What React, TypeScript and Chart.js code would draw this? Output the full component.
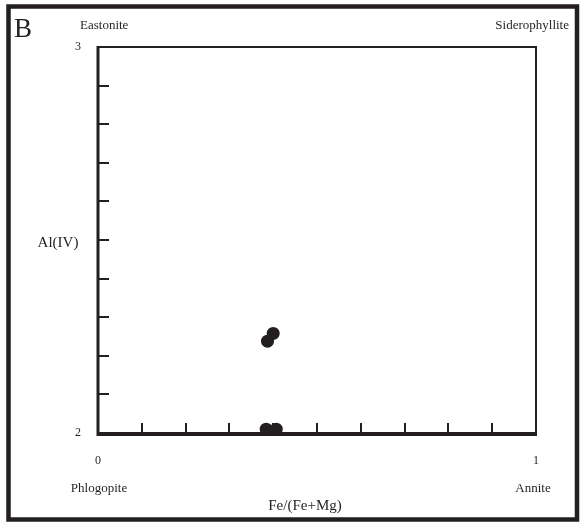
import React, { useEffect, useRef } from "react";
import { Chart, registerables } from "chart.js";

Chart.register(...registerables);

const xValues = [0.387, 0.4, 0.384, 0.407];
const yValues = [2.238, 2.258, 2.01, 2.01];
const xTickLabels: Record<string, string> = { "0": "0", "1": "1" };
const yTickLabels: Record<string, string> = { "2": "2", "3": "3" };
const cornerLabels = ["Eastonite", "Siderophyllite", "Phlogopite", "Annite"];
const xTitle = "Fe/(Fe+Mg)";
const yTitle = "Al(IV)";
const panelLabel = "B";

const INK = "#231f20";
const FONT = "'Liberation Serif', 'Times New Roman', serif";

const framePlugin = {
  id: "frame",
  beforeDatasetsDraw(chart: any) {
    const { ctx, chartArea } = chart;
    const xs = chart.scales.x;
    const ys = chart.scales.y;
    ctx.save();
    ctx.strokeStyle = INK;
    // outer border
    ctx.lineWidth = 4.5;
    ctx.strokeRect(8.5, 6.5, 568.5, 513);
    // plot frame
    ctx.lineWidth = 2;
    ctx.strokeRect(chartArea.left, chartArea.top, chartArea.right - chartArea.left, chartArea.bottom - chartArea.top);
    ctx.lineWidth = 3;
    ctx.beginPath();
    ctx.moveTo(chartArea.left, chartArea.top - 1);
    ctx.lineTo(chartArea.left, chartArea.bottom + 1.5);
    ctx.lineTo(chartArea.right + 1, chartArea.bottom + 1.5);
    ctx.stroke();
    // inward ticks
    ctx.lineWidth = 2;
    ctx.beginPath();
    for (let i = 1; i < 10; i++) {
      const v = 2 + i / 10;
      const py = Math.round(ys.getPixelForValue(v));
      ctx.moveTo(chartArea.left, py);
      ctx.lineTo(chartArea.left + 11, py);
      const vx = i / 10;
      const px = Math.round(xs.getPixelForValue(vx));
      ctx.moveTo(px, chartArea.bottom);
      ctx.lineTo(px, chartArea.bottom - 10);
    }
    ctx.stroke();
    // texts
    ctx.fillStyle = INK;
    ctx.font = `27px ${FONT}`;
    ctx.textAlign = "left";
    ctx.textBaseline = "alphabetic";
    ctx.fillText(panelLabel, 14, 37);
    ctx.font = `13px ${FONT}`;
    ctx.fillText(cornerLabels[0], 80, 29);
    ctx.textAlign = "right";
    ctx.fillText(cornerLabels[1], 569, 29);
    ctx.textAlign = "center";
    ctx.textBaseline = "middle";
    ctx.fillText(cornerLabels[2], 99, 489);
    ctx.fillText(cornerLabels[3], 533, 489);
    ctx.font = `15px ${FONT}`;
    ctx.fillText(xTitle, 305, 506);
    ctx.fillText(yTitle, 58, 243);
    ctx.restore();
  },
};

export default function App() {
  const ref = useRef<HTMLCanvasElement | null>(null);
  useEffect(() => {
    if (!ref.current) return;
    const chart = new Chart(ref.current, {
      type: "scatter",
      data: {
        datasets: [
          {
            data: xValues.map((x, i) => ({ x, y: yValues[i] })),
            backgroundColor: INK,
            borderWidth: 0,
            pointRadius: 6.5,
            pointHoverRadius: 6.5,
            clip: false as any,
          },
        ],
      },
      options: {
        responsive: false,
        animation: false,
        events: [],
        layout: { padding: { left: 0, top: 47, right: 45, bottom: 0 } },
        plugins: { legend: { display: false }, tooltip: { enabled: false } },
        scales: {
          x: {
            type: "linear",
            min: 0,
            max: 1,
            grid: { display: false, drawTicks: false },
            border: { display: false },
            afterFit: (s: any) => {
              s.height = 90;
            },
            ticks: {
              stepSize: 0.1,
              autoSkip: false,
              maxRotation: 0,
              padding: 21,
              color: INK,
              font: { family: FONT, size: 12 },
              callback: (v: any) => {
                const k = Math.abs(v) < 1e-9 ? "0" : Math.abs(v - 1) < 1e-9 ? "1" : "";
                return xTickLabels[k] ?? "";
              },
            },
          },
          y: {
            type: "linear",
            min: 2,
            max: 3,
            grid: { display: false, drawTicks: false },
            border: { display: false },
            afterFit: (s: any) => {
              s.width = 98;
            },
            ticks: {
              stepSize: 0.1,
              autoSkip: false,
              padding: 17,
              color: INK,
              font: { family: FONT, size: 12 },
              callback: (v: any) => {
                const k = Math.abs(v - 2) < 1e-9 ? "2" : Math.abs(v - 3) < 1e-9 ? "3" : "";
                return yTickLabels[k] ?? "";
              },
            },
          },
        },
      },
      plugins: [framePlugin],
    });
    return () => chart.destroy();
  }, []);
  return (
    <div style={{ position: "fixed", left: 0, top: 0, width: 581, height: 523, background: "#fff" }}>
      <canvas ref={ref} width={581} height={523} style={{ width: 581, height: 523 }} />
    </div>
  );
}
